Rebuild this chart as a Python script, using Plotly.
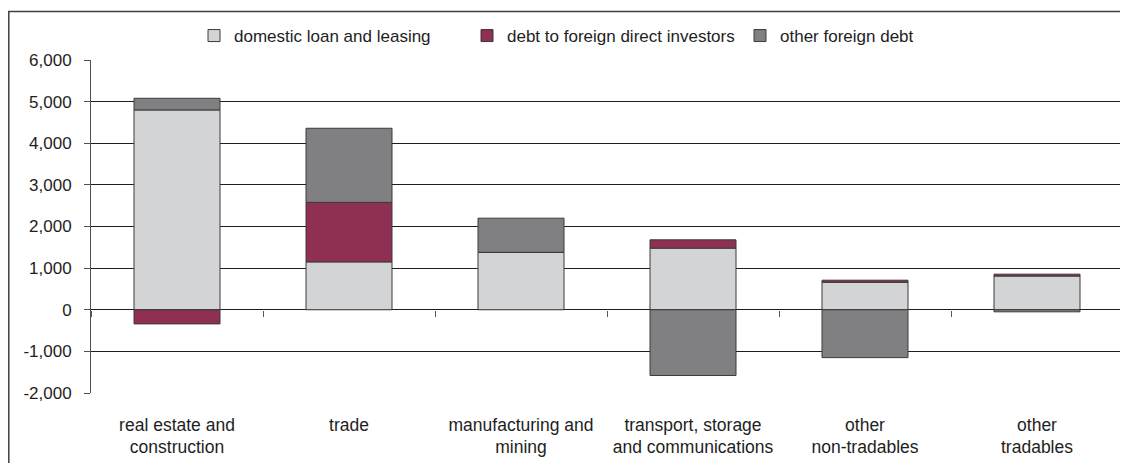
import plotly.graph_objects as go

categories = ["real estate and<br>construction", "trade", "manufacturing and<br>mining",
              "transport, storage<br>and communications", "other<br>non-tradables", "other<br>tradables"]
domestic = [4800, 1150, 1380, 1480, 660, 810]
fdi_debt = [-340, 1430, 0, 200, 50, 45]
other_foreign = [280, 1780, 820, -1580, -1150, -50]

series_names = ["domestic loan and leasing", "debt to foreign direct investors", "other foreign debt"]
series_colors = ["#D3D4D6", "#8E2F53", "#808082"]

ytick_vals = [-2000, -1000, 0, 1000, 2000, 3000, 4000, 5000, 6000]
ytick_text = ["-2,000", "-1,000", "0", "1,000", "2,000", "3,000", "4,000", "5,000", "6,000"]

FONT = "Liberation Sans, Arial, sans-serif"

fig = go.Figure()
for name, vals, col in zip(series_names, [domestic, fdi_debt, other_foreign], series_colors):
    fig.add_trace(go.Bar(
        x=categories, y=vals, name=name,
        marker=dict(color=col, line=dict(color="#3a3a3a", width=1)),
        width=0.5,
    ))

# page body has an 8px margin, so the figure is sized to fill the rest of the window
W, H = 1120, 455
L, R, T, B = 83, 5, 52, 70
pw, ph = W - L - R, H - T - B

def px_x(p):
    return (p - L) / pw

def px_y(p):
    return (H - B - p) / ph

fig.update_layout(
    width=W, height=H,
    margin=dict(l=L, r=R, t=T, b=B, autoexpand=False),
    barmode="relative",
    bargap=0.5,
    plot_bgcolor="white", paper_bgcolor="white",
    font=dict(family=FONT, size=17, color="#1e1e1e"),
    legend=dict(
        orientation="h", xref="container", yref="container",
        x=186 / W, xanchor="left", y=1 - 28 / H, yanchor="middle",
        font=dict(size=17), bgcolor="rgba(0,0,0,0)", traceorder="normal",
        itemwidth=30, entrywidth=228, entrywidthmode="pixels",
    ),
    xaxis=dict(
        type="category", categoryorder="array", categoryarray=categories,
        range=[-0.5, 5.5], showgrid=False, showline=False, ticks="",
        ticklabelstandoff=19, zeroline=False, automargin=False,
        tickfont=dict(size=17.5),
    ),
    xaxis2=dict(
        type="category", categoryorder="array", categoryarray=categories,
        overlaying="x", anchor="free", position=0.25, side="bottom",
        range=[-0.5, 5.5], showticklabels=False, ticks="outside", tickson="boundaries",
        ticklen=6, tickcolor="#555555", tickwidth=1, showgrid=False, showline=False,
        matches="x", automargin=False,
    ),
    yaxis=dict(
        range=[-2000, 6000], tickvals=ytick_vals, ticktext=ytick_text,
        showgrid=True, gridcolor="#1e1e1e", gridwidth=1,
        zeroline=True, zerolinecolor="#1e1e1e", zerolinewidth=1,
        showline=True, linecolor="#505050", linewidth=1, mirror=True,
        ticks="outside", ticklen=6, tickcolor="#505050",
        ticklabelstandoff=9, automargin=False,
    ),
    shapes=[dict(
        type="rect", xref="paper", yref="paper",
        x0=px_x(0.8), x1=px_x(1140), y0=px_y(490), y1=px_y(3.5),
        line=dict(color="#404040", width=1.5), fillcolor="rgba(0,0,0,0)", layer="above",
    )],
)
# helper so the overlay axis carrying the zero-line tick marks is drawn
fig.add_trace(go.Scatter(x=categories, y=[None] * len(categories), xaxis="x2",
                         mode="none", showlegend=False, hoverinfo="skip"))

fig.write_html("out.html")
